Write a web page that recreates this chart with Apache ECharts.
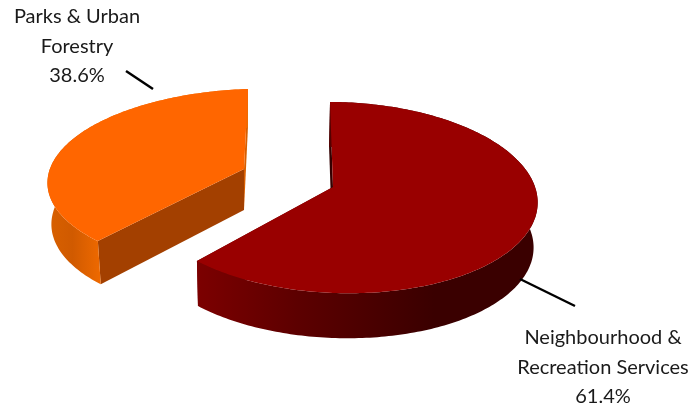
<!DOCTYPE html>
<html><head><meta charset="utf-8">
<style>html,body{margin:0;padding:0;background:#fff}#c{width:694px;height:407px}</style>
<script src="https://cdn.jsdelivr.net/npm/echarts@6/dist/echarts.min.js"></script>
</head><body><div id="c"></div>
<script>
// Data
const categories = [['Neighbourhood &','Recreation Services'], ['Parks & Urban','Forestry']];
const values = [61.4, 38.6];

// View: projective mapping of each exploded slice's disc onto the picture
const views = [
  {ox:333, oy:187, A:197.5, B:3.3, a:94.4, g:3, c:-0.11, e:-0.027, sx:0.985, dx:-1, sy:1, dy:45,
   top:'#990000', inner:'#330000', wallEnd:'#6a0000',
   wall:[[0,'#7c0000'],[0.3,'#5c0000'],[0.7,'#3a0000'],[1,'#3a0000']], wx:[197,536],
   label:{x:603, y:[338,368,397]}, leader:[[520,279],[575,306]]},
  {ox:244, oy:169, A:207, B:-4.5, a:89.4, g:-2, c:-0.117, e:-0.063, sx:0.98, dx:0, sy:1.03, dy:41,
   top:'#ff6600', inner:'#a34000', wallEnd:'#d85f00',
   wall:[[0,'#d86000'],[0.45,'#d05a00'],[1,'#f06a00']], wx:[48,102],
   label:{x:77, y:[17,47,76]}, leader:[[126,71],[153,89]]}
];
const textColor = '#1a1a1a';
const total = values.reduce((s,v)=>s+v,0);

function topPt(v,deg){
  const t=deg*Math.PI/180, u=Math.sin(t), w=-Math.cos(t), D=1+v.c*w+v.e*u;
  return [(v.A*u+v.B*w)/D,(v.a*w+v.g*u)/D];
}
const P=(v,p)=>[v.ox+p[0],v.oy+p[1]];
const L=(v,p)=>[v.ox+p[0]*v.sx+v.dx,v.oy+p[1]*v.sy+v.dy];

function renderItem(params,api){
  const i=params.dataIndex, v=views[i];
  let start=0; for(let k=0;k<i;k++) start+=values[k];
  const a0=start/total*360, a1=(start+values[i])/total*360;
  const upper=[],lower=[];
  for(let d=a0;d<=a1+1e-6;d+=1){ const p=topPt(v,d); upper.push(P(v,p)); lower.push(L(v,p)); }
  const pe=topPt(v,a1); upper.push(P(v,pe)); lower.push(L(v,pe));
  const cT=P(v,[0,0]), cB=L(v,[0,0]);
  const grad=new echarts.graphic.LinearGradient(v.wx[0],0,v.wx[1],0,v.wall.map(s=>({offset:s[0],color:s[1]})),true);
  const poly=(pts,fill)=>({type:'polygon',shape:{points:pts},style:{fill:fill}});
  const children=[
    poly([cT,upper[upper.length-1],lower[lower.length-1],cB],v.wallEnd),
    poly([cT,upper[0],lower[0],cB],v.inner),
    poly(upper.concat(lower.slice().reverse()),grad),
    poly([cT].concat(upper),v.top),
    {type:'line',shape:{x1:v.leader[0][0],y1:v.leader[0][1],x2:v.leader[1][0],y2:v.leader[1][1]},
     style:{stroke:'#000',lineWidth:2.4}}
  ];
  const lines=categories[i].concat([api.value(0).toFixed(1)+'%']);
  lines.forEach((s,k)=>children.push({type:'text',x:v.label.x,y:v.label.y[k],
    style:{text:s,fill:textColor,font:'20px Lato',align:'center',verticalAlign:'middle'}}));
  return {type:'group',children:children};
}
const chart=echarts.init(document.getElementById('c'),null,{renderer:'canvas'});
chart.setOption({
  animation:false,
  backgroundColor:'#fff',
  series:[{type:'custom',coordinateSystem:'none',renderItem:renderItem,
    data:values.map((d,i)=>({value:[d],name:categories[i].join(' ')})),
    silent:true}]
});
</script></body></html>
